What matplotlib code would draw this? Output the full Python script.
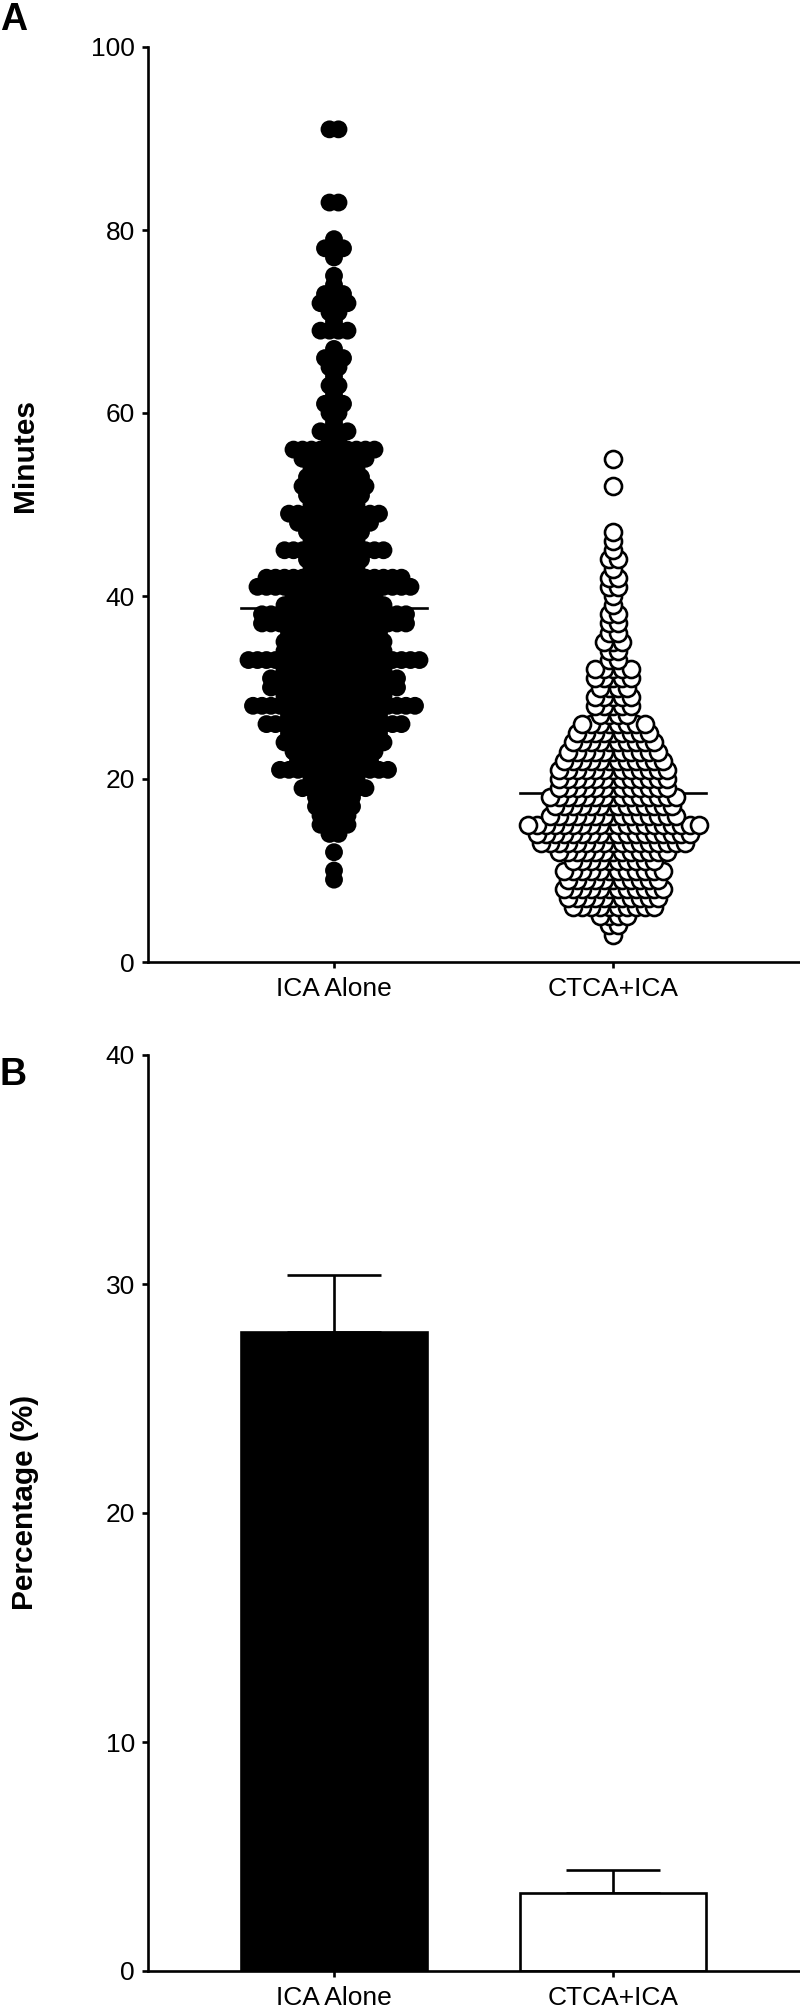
import matplotlib
matplotlib.use("Agg")
import matplotlib.pyplot as plt
import numpy as np

plt.rcParams['font.family'] = ['Liberation Sans', 'DejaVu Sans']

# groups
categories = ['ICA Alone', 'CTCA+ICA']

# panel A: minutes, value -> number of patients
ica_values = [9, 10, 12, 14, 15, 16, 17, 18, 19, 20,
              21, 22, 23, 24, 25, 26, 27, 28, 29, 30,
              31, 32, 33, 34, 35, 36, 37, 38, 39, 40,
              41, 42, 43, 44, 45, 46, 47, 48, 49, 50,
              51, 52, 53, 54, 55, 56, 57, 58, 59, 60,
              61, 62, 63, 64, 65, 66, 67, 69, 70, 71,
              72, 73, 74, 75, 77, 78, 79, 83, 91]
ica_counts = [1, 1, 1, 2, 4, 4, 5, 5, 8, 6,
              13, 9, 10, 12, 11, 16, 11, 19, 12, 15,
              15, 12, 20, 12, 12, 11, 17, 17, 12, 10,
              18, 16, 6, 7, 12, 6, 7, 9, 11, 6,
              7, 8, 7, 6, 8, 10, 2, 4, 1, 2,
              3, 1, 2, 1, 2, 3, 1, 4, 1, 2,
              4, 3, 1, 1, 1, 3, 1, 2, 2]

ctca_values = [3, 4, 5, 6, 7, 8, 9, 10, 11, 12,
               13, 14, 15, 16, 17, 18, 19, 20, 21, 22,
               23, 24, 25, 26, 27, 28, 29, 30, 31, 32,
               33, 34, 35, 36, 37, 38, 39, 40, 41, 42,
               43, 44, 45, 46, 47, 52, 55]
ctca_counts = [1, 2, 4, 10, 11, 12, 11, 12, 10, 13,
               17, 18, 20, 15, 14, 15, 13, 13, 13, 12,
               11, 10, 9, 8, 4, 5, 5, 4, 5, 5,
               2, 2, 3, 2, 2, 2, 1, 1, 2, 2,
               1, 2, 1, 1, 1, 1, 1]

mean_minutes = [38.7, 18.5]

# panel B: percentage with SEM
pct_mean = [27.9, 3.4]
pct_sem = [2.5, 1.0]

LW = 1.9           # line width in points
PX_PER_UNIT = 279  # pixels between the two categories
GAP_PX = 9         # horizontal spacing of dots sharing a value


def swarm(values, counts, center):
    xs, ys = [], []
    gap = GAP_PX / PX_PER_UNIT
    for v, n in zip(values, counts):
        offs = (np.arange(n) - (n - 1) / 2) * gap
        offs = offs[np.argsort(np.abs(offs), kind='stable')]
        for o in offs:
            xs.append(center + o)
            ys.append(v)
    return np.array(xs), np.array(ys)


def style_axes(ax, ymax, ystep):
    ax.spines['top'].set_visible(False)
    ax.spines['right'].set_visible(False)
    ax.spines['left'].set_linewidth(LW)
    ax.spines['bottom'].set_linewidth(LW)
    ax.set_xlim(-2 / 3, 5 / 3)
    ax.set_ylim(0, ymax)
    ax.set_yticks(np.arange(0, ymax + 1, ystep))
    ax.set_xticks([0, 1])
    ax.set_xticklabels(categories)
    ax.tick_params(axis='both', length=4.5, width=LW, labelsize=19, colors='black')
    ax.tick_params(axis='y', pad=5)
    ax.tick_params(axis='x', pad=6)


fig = plt.figure(figsize=(8, 20.12), dpi=100)

# ---- panel A
ax1 = fig.add_axes([148 / 800, 1 - 962 / 2012, 651 / 800, 915 / 2012])
for i, m in enumerate(mean_minutes):
    ax1.plot([i - 1 / 3, i + 1 / 3], [m, m], color='black', lw=LW, zorder=1)

x, y = swarm(ica_values, ica_counts, 0)
ax1.scatter(x, y, s=165, color='black', edgecolors='none', zorder=2, clip_on=False)
x, y = swarm(ctca_values, ctca_counts, 1)
ax1.scatter(x, y, s=150, facecolors='white', edgecolors='black', linewidths=LW,
            zorder=3, clip_on=False)
style_axes(ax1, 100, 20)

# ---- panel B
ax2 = fig.add_axes([148 / 800, 1 - 1971 / 2012, 651 / 800, 916 / 2012])
ax2.bar([0, 1], pct_mean, width=2 / 3, color=['black', 'white'],
        edgecolor='black', linewidth=LW, zorder=2)
ax2.errorbar([0, 1], pct_mean, yerr=[[0, 0], pct_sem], fmt='none',
             ecolor='black', elinewidth=LW, capsize=34, capthick=LW, zorder=1)
style_axes(ax2, 40, 10)

fig.text(25 / 800, 1 - 456 / 2012, 'Minutes', rotation=90, ha='center', va='center',
         fontsize=21.5, fontweight='bold')
fig.text(25 / 800, 1 - 1502 / 2012, 'Percentage (%)', rotation=90, ha='center',
         va='center', fontsize=21.5, fontweight='bold')
fig.text(0, 1 - 20 / 2012, 'A', ha='left', va='center', fontsize=27, fontweight='bold')
fig.text(0, 1 - 1075 / 2012, 'B', ha='left', va='center', fontsize=27, fontweight='bold')

fig.savefig('out.png', dpi=100)
